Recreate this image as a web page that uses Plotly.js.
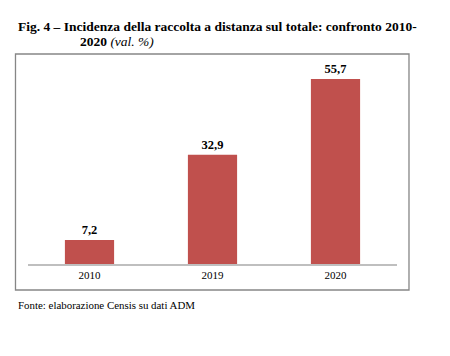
<!DOCTYPE html>
<html><head><meta charset="utf-8">
<script src="https://cdn.plot.ly/plotly-3.0.1.min.js"></script>
<style>body{margin:0;background:#fff}#c{width:450px;height:356px}</style>
</head><body><div id="c"></div>
<script>
const categories = ['2010', '2019', '2020'];
const values = [7.2, 32.9, 55.7];
const labels = ['7,2', '32,9', '55,7'];

const serif = 'Liberation Serif, Times New Roman, serif';
const trace = {
  type: 'bar', x: categories, y: values,
  text: labels, textposition: 'outside', cliponaxis: false,
  textfont: {family: serif, size: 12.5, color: '#000', weight: 'bold'},
  marker: {color: '#C0504D'},
  hoverinfo: 'none'
};
const layout = {
  width: 450, height: 356,
  margin: {l: 28, r: 53, t: 64, b: 92},
  paper_bgcolor: '#fff', plot_bgcolor: '#fff',
  showlegend: false, bargap: 0.6,
  font: {family: serif, color: '#000'},
  xaxis: {type: 'category', showline: true, linecolor: '#BFBFBF', linewidth: 1.5,
          ticks: '', tickfont: {family: serif, size: 11, color: '#000'}, fixedrange: true},
  yaxis: {range: [0, 60.2], visible: false, showgrid: false, zeroline: false},
  shapes: [{type: 'rect', xref: 'paper', yref: 'paper',
            x0: -0.0339, x1: 1.0325, y0: -0.13, y1: 1.05,
            line: {color: '#868686', width: 1.3}, fillcolor: 'rgba(0,0,0,0)'}],
  annotations: [
    {xref: 'paper', yref: 'paper', x: (16-28)/369, y: (264-27)/200, xanchor: 'left', yanchor: 'middle',
     showarrow: false, text: '<b>Fig. 4 – Incidenza della raccolta a distanza sul totale: confronto 2010-</b>',
     font: {family: serif, size: 13.5, color: '#000'}},
    {xref: 'paper', yref: 'paper', x: (78-28)/369, y: (264-42)/200, xanchor: 'left', yanchor: 'middle',
     showarrow: false, text: '<b>2020</b> <i>(val. %)</i>',
     font: {family: serif, size: 13.5, color: '#000'}},
    {xref: 'paper', yref: 'paper', x: (16-28)/369, y: (264-305)/200, xanchor: 'left', yanchor: 'middle',
     showarrow: false, text: 'Fonte: elaborazione Censis su dati ADM',
     font: {family: serif, size: 10.9, color: '#000'}}
  ]
};
Plotly.newPlot('c', [trace], layout, {staticPlot: true, displayModeBar: false});
</script></body></html>
